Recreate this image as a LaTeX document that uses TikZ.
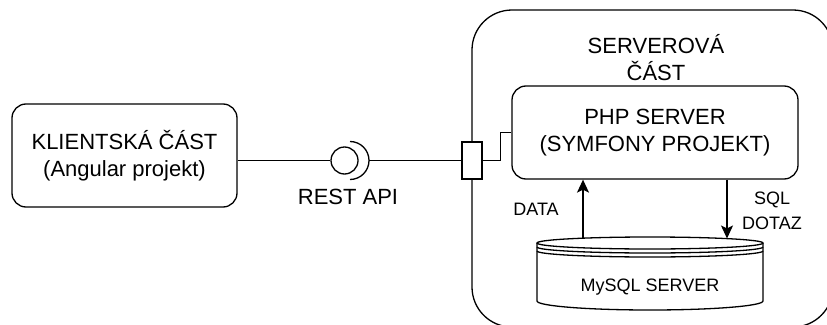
\documentclass[tikz,border=0pt]{standalone}
\usepackage{fontspec}
\setmainfont{Liberation Sans}
\usetikzlibrary{arrows.meta}

\begin{document}
\begin{tikzpicture}[x=1pt,y=-1pt,line width=1.3pt,
    box/.style={draw,rounded corners=14,align=center,font=\fontsize{22}{27}\selectfont},
    lbl/.style={align=center,font=\fontsize{18}{25}\selectfont},
    big/.style={align=center,font=\fontsize{22}{27}\selectfont},
    tok/.style={-{Stealth[length=13pt,width=12pt,inset=3pt]}}]
        \clip (0,0) rectangle (827,324);
        % serverova cast
        \draw [rounded corners=40] (472,10) rectangle (833,327);
        \node [big] (srvlbl) at (656,58) {SERVEROVÁ\\ČÁST};

        \node [box,minimum width=225,minimum height=103] (klient) at (124.5,155.5) {KLIENTSKÁ ČÁST\\(Angular projekt)};
        \node [box,minimum width=286,minimum height=93] (php) at (655,132.5) {PHP SERVER\\(SYMFONY PROJEKT)};

        % rozhrani REST API
        \node [draw,circle,minimum size=27,inner sep=0] (api) at (344.5,160.5) {};
        \draw (350,141.5) arc [start angle=-90,end angle=90,radius=19];
        \coordinate (sock) at (369,160.5);
        \node [big] (apilbl) at (348,197) {REST API};
        \node [draw,fill=white,minimum width=20,minimum height=37,inner sep=0] (port) at (472,160.5) {};
        \draw (api.west -| klient.east) -- (api.west);
        \draw (sock) -- (port.west);
        \draw (port.east) -- ++(18,0) |- (php.west);

        % databaze
        \draw [fill=white] (537,243) -- (537,301) arc [start angle=180,end angle=0,x radius=113,y radius=9] -- (763,243);
        \draw (650,243) ellipse [x radius=113,y radius=6];
        \draw (537,247) arc [start angle=180,end angle=0,x radius=113,y radius=6];
        \draw (537,251) arc [start angle=180,end angle=0,x radius=113,y radius=6];
        \node [lbl] (db) at (650,287) {MySQL SERVER};
        \coordinate (dbin) at (583,238);
        \coordinate (dbout) at (727,238.5);

        \draw [tok] (dbin) -- (php.south -| dbin);
        \draw [tok] (php.south -| dbout) -- (dbout);
        \node [lbl] (datalbl) at (536,209) {DATA};
        \node [lbl] (sqllbl) at (772,211) {SQL\\DOTAZ};
\end{tikzpicture}
\end{document}
